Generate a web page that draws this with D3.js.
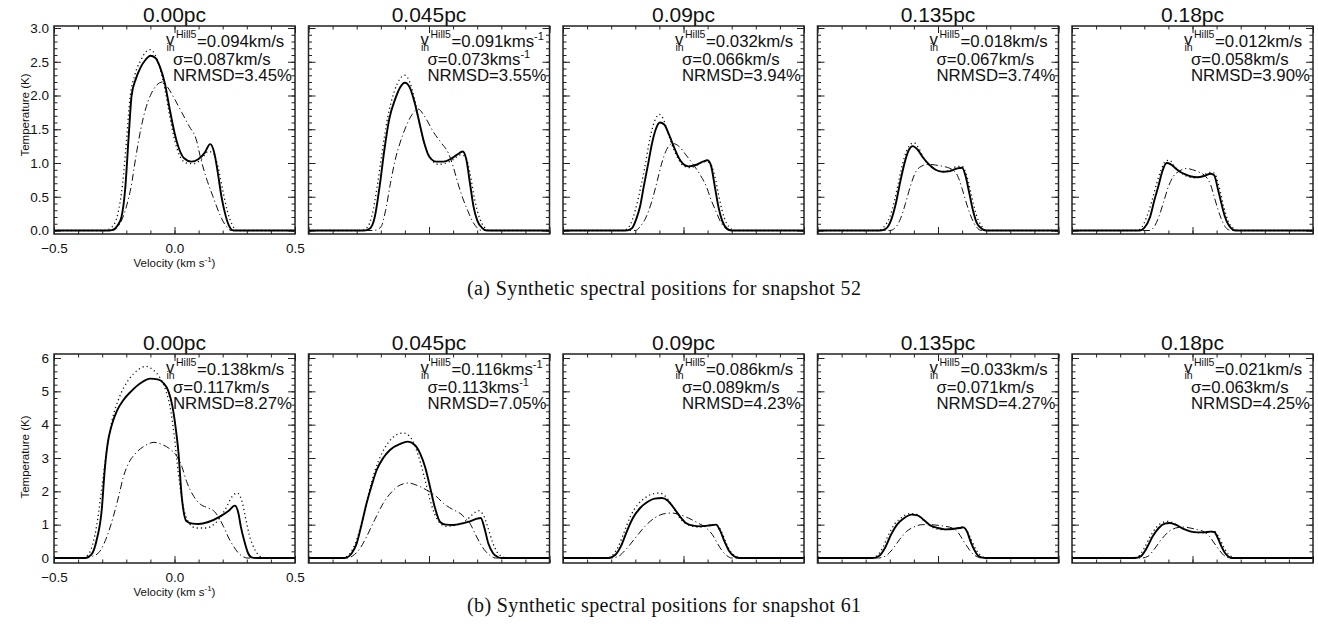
<!DOCTYPE html>
<html>
<head>
<meta charset="utf-8">
<script src="https://cdn.jsdelivr.net/npm/d3@7"></script>
<style>
body { margin: 0; background: #fff; }
svg text { font-family: "Liberation Sans", Arial, Helvetica, sans-serif; fill: #111; }
svg text.caption { font-family: "Liberation Serif", "DejaVu Serif", serif; }
</style>
</head>
<body>
<svg></svg>
<script>
// panel titles (distance from centre)
const distances = ['0.00pc', '0.045pc', '0.09pc', '0.135pc', '0.18pc'];

// annotation values, snapshot 52 (a) and 61 (b)
const vin52 = ['0.094', '0.091', '0.032', '0.018', '0.012'];
const sigma52 = ['0.087', '0.073', '0.066', '0.067', '0.058'];
const nrmsd52 = ['3.45', '3.55', '3.94', '3.74', '3.90'];
const vin61 = ['0.138', '0.116', '0.086', '0.033', '0.021'];
const sigma61 = ['0.117', '0.113', '0.089', '0.071', '0.063'];
const nrmsd61 = ['8.27', '7.05', '4.23', '4.27', '4.25'];
const unitStyle = ['km/s', 'kms-1', 'km/s', 'km/s', 'km/s'];

const captions = ['(a) Synthetic spectral positions for snapshot 52',
                  '(b) Synthetic spectral positions for snapshot 61'];

// spectra: [velocity km/s, temperature K]
const solid52 = [
  [[-0.5,0],[-0.27,0],[-0.25,0.02],[-0.235,0.08],[-0.22,0.2],[-0.205,0.6],[-0.19,1.4],[-0.178,2.0],[-0.16,2.25],[-0.14,2.42],[-0.12,2.53],[-0.1,2.59],[-0.08,2.56],[-0.06,2.42],[-0.04,2.18],[-0.02,1.8],[0.0,1.45],[0.02,1.2],[0.04,1.07],[0.07,1.02],[0.1,1.06],[0.125,1.15],[0.148,1.28],[0.165,1.15],[0.18,0.85],[0.195,0.5],[0.21,0.25],[0.225,0.08],[0.245,0],[0.5,0]],
  [[-0.5,0],[-0.27,0],[-0.245,0.03],[-0.225,0.2],[-0.205,0.65],[-0.185,1.2],[-0.165,1.65],[-0.14,1.95],[-0.12,2.12],[-0.1,2.19],[-0.08,2.12],[-0.06,1.9],[-0.04,1.6],[-0.02,1.3],[0.0,1.1],[0.03,1.02],[0.06,1.02],[0.09,1.06],[0.115,1.12],[0.14,1.17],[0.155,1.05],[0.17,0.7],[0.185,0.35],[0.2,0.15],[0.22,0.04],[0.24,0],[0.5,0]],
  [[-0.5,0],[-0.24,0],[-0.215,0.03],[-0.195,0.18],[-0.18,0.36],[-0.165,0.65],[-0.146,1.0],[-0.13,1.3],[-0.115,1.5],[-0.098,1.6],[-0.08,1.57],[-0.06,1.42],[-0.04,1.24],[-0.02,1.08],[0.0,0.98],[0.02,0.95],[0.05,0.97],[0.08,1.02],[0.1,1.04],[0.115,0.95],[0.13,0.65],[0.145,0.35],[0.16,0.15],[0.18,0.03],[0.2,0],[0.5,0]],
  [[-0.5,0],[-0.24,0],[-0.215,0.03],[-0.195,0.15],[-0.175,0.4],[-0.155,0.75],[-0.135,1.05],[-0.12,1.2],[-0.105,1.25],[-0.085,1.2],[-0.06,1.07],[-0.035,0.97],[-0.01,0.9],[0.02,0.87],[0.05,0.88],[0.08,0.92],[0.1,0.93],[0.115,0.8],[0.13,0.55],[0.145,0.3],[0.16,0.12],[0.18,0.03],[0.2,0],[0.5,0]],
  [[-0.5,0],[-0.22,0],[-0.2,0.04],[-0.176,0.2],[-0.158,0.45],[-0.142,0.65],[-0.125,0.88],[-0.107,1.0],[-0.09,0.98],[-0.07,0.92],[-0.052,0.87],[-0.03,0.83],[-0.005,0.8],[0.02,0.79],[0.05,0.81],[0.075,0.84],[0.09,0.82],[0.105,0.62],[0.12,0.4],[0.135,0.2],[0.15,0.08],[0.165,0.02],[0.18,0],[0.5,0]]
];
const dotted52 = [
  [[-0.5,0],[-0.29,0],[-0.26,0.05],[-0.235,0.25],[-0.215,0.7],[-0.2,1.3],[-0.185,1.95],[-0.165,2.3],[-0.14,2.52],[-0.115,2.66],[-0.1,2.68],[-0.08,2.6],[-0.06,2.4],[-0.04,2.1],[-0.02,1.7],[0.0,1.35],[0.02,1.12],[0.05,1.0],[0.08,0.99],[0.11,1.05],[0.14,1.17],[0.16,1.15],[0.18,0.95],[0.2,0.6],[0.22,0.28],[0.24,0.08],[0.26,0],[0.5,0]],
  [[-0.5,0],[-0.28,0],[-0.255,0.05],[-0.235,0.25],[-0.215,0.65],[-0.195,1.15],[-0.17,1.7],[-0.145,2.05],[-0.12,2.25],[-0.1,2.3],[-0.08,2.2],[-0.06,1.95],[-0.04,1.6],[-0.02,1.3],[0.01,1.05],[0.04,0.98],[0.07,1.0],[0.1,1.05],[0.13,1.12],[0.15,1.1],[0.17,0.85],[0.19,0.45],[0.21,0.18],[0.23,0.05],[0.25,0],[0.5,0]],
  [[-0.5,0],[-0.25,0],[-0.225,0.06],[-0.2,0.3],[-0.18,0.6],[-0.16,0.95],[-0.14,1.35],[-0.12,1.62],[-0.1,1.72],[-0.085,1.66],[-0.065,1.45],[-0.04,1.2],[-0.02,1.05],[0.0,0.96],[0.03,0.93],[0.06,0.98],[0.09,1.02],[0.11,1.0],[0.13,0.8],[0.15,0.45],[0.17,0.18],[0.19,0.05],[0.21,0],[0.5,0]],
  [[-0.5,0],[-0.25,0],[-0.225,0.05],[-0.2,0.2],[-0.18,0.45],[-0.16,0.78],[-0.14,1.08],[-0.12,1.25],[-0.1,1.3],[-0.08,1.22],[-0.06,1.08],[-0.035,0.96],[-0.01,0.9],[0.02,0.87],[0.05,0.9],[0.08,0.95],[0.1,0.95],[0.12,0.8],[0.14,0.5],[0.16,0.22],[0.18,0.07],[0.2,0],[0.5,0]],
  [[-0.5,0],[-0.23,0],[-0.21,0.05],[-0.19,0.2],[-0.17,0.42],[-0.15,0.68],[-0.13,0.9],[-0.11,1.03],[-0.095,1.04],[-0.075,0.95],[-0.05,0.86],[-0.02,0.8],[0.01,0.78],[0.04,0.8],[0.07,0.86],[0.09,0.85],[0.11,0.65],[0.13,0.35],[0.15,0.12],[0.17,0.03],[0.19,0],[0.5,0]]
];
const dashdot52 = [
  [[-0.5,0],[-0.26,0],[-0.23,0.08],[-0.2,0.35],[-0.18,0.65],[-0.16,1.1],[-0.14,1.5],[-0.12,1.8],[-0.1,2.0],[-0.075,2.15],[-0.05,2.2],[-0.03,2.13],[0.0,1.95],[0.03,1.75],[0.06,1.55],[0.09,1.35],[0.11,1.05],[0.13,0.8],[0.16,0.5],[0.19,0.22],[0.215,0.06],[0.235,0],[0.5,0]],
  [[-0.5,0],[-0.23,0],[-0.2,0.05],[-0.18,0.3],[-0.16,0.7],[-0.14,1.05],[-0.12,1.3],[-0.1,1.5],[-0.07,1.72],[-0.045,1.8],[-0.02,1.7],[0.02,1.45],[0.05,1.3],[0.08,1.15],[0.1,0.95],[0.12,0.7],[0.14,0.48],[0.16,0.3],[0.18,0.14],[0.2,0.04],[0.22,0],[0.5,0]],
  [[-0.5,0],[-0.2,0],[-0.175,0.08],[-0.155,0.2],[-0.13,0.45],[-0.11,0.72],[-0.09,1.0],[-0.07,1.2],[-0.045,1.29],[-0.02,1.25],[0.01,1.12],[0.04,0.98],[0.07,0.82],[0.095,0.65],[0.115,0.45],[0.135,0.28],[0.155,0.12],[0.175,0.03],[0.19,0],[0.5,0]],
  [[-0.5,0],[-0.2,0],[-0.175,0.05],[-0.155,0.18],[-0.135,0.4],[-0.115,0.65],[-0.095,0.85],[-0.07,0.95],[-0.04,0.98],[-0.01,0.97],[0.02,0.95],[0.05,0.92],[0.08,0.82],[0.1,0.62],[0.12,0.38],[0.14,0.18],[0.16,0.05],[0.18,0],[0.5,0]],
  [[-0.5,0],[-0.18,0],[-0.16,0.05],[-0.14,0.2],[-0.12,0.42],[-0.1,0.65],[-0.08,0.8],[-0.055,0.88],[-0.025,0.92],[0.0,0.9],[0.03,0.86],[0.055,0.8],[0.075,0.68],[0.09,0.5],[0.105,0.32],[0.12,0.17],[0.135,0.06],[0.15,0.01],[0.165,0],[0.5,0]]
];
const solid61 = [
  [[-0.5,0],[-0.37,0],[-0.345,0.1],[-0.323,0.54],[-0.302,1.44],[-0.29,2.6],[-0.278,3.4],[-0.26,4.0],[-0.24,4.4],[-0.212,4.74],[-0.18,5.0],[-0.14,5.25],[-0.1,5.38],[-0.07,5.36],[-0.046,5.25],[-0.025,5.0],[-0.01,4.6],[0.005,3.9],[0.016,3.2],[0.03,1.84],[0.05,1.1],[0.075,1.03],[0.1,1.02],[0.14,1.08],[0.19,1.25],[0.225,1.42],[0.25,1.57],[0.265,1.35],[0.275,0.95],[0.29,0.5],[0.305,0.15],[0.32,0.02],[0.34,0],[0.5,0]],
  [[-0.5,0],[-0.35,0],[-0.32,0.15],[-0.3,0.44],[-0.28,1.0],[-0.259,1.64],[-0.237,2.2],[-0.217,2.64],[-0.19,3.0],[-0.162,3.24],[-0.12,3.42],[-0.088,3.49],[-0.06,3.4],[-0.037,3.14],[-0.015,2.7],[0.004,2.14],[0.025,1.5],[0.046,1.08],[0.07,1.0],[0.1,0.99],[0.14,1.04],[0.17,1.1],[0.2,1.18],[0.215,1.2],[0.23,0.9],[0.246,0.44],[0.265,0.15],[0.285,0.03],[0.3,0],[0.5,0]],
  [[-0.5,0],[-0.31,0],[-0.285,0.08],[-0.26,0.35],[-0.235,0.8],[-0.21,1.2],[-0.18,1.5],[-0.15,1.68],[-0.12,1.78],[-0.09,1.8],[-0.065,1.72],[-0.04,1.5],[-0.015,1.25],[0.01,1.05],[0.04,0.97],[0.07,0.95],[0.1,0.97],[0.135,1.0],[0.15,0.85],[0.17,0.5],[0.19,0.2],[0.21,0.05],[0.23,0],[0.5,0]],
  [[-0.5,0],[-0.27,0],[-0.245,0.06],[-0.22,0.3],[-0.195,0.7],[-0.17,1.0],[-0.14,1.2],[-0.11,1.3],[-0.085,1.28],[-0.06,1.15],[-0.03,0.97],[0.0,0.9],[0.03,0.86],[0.06,0.87],[0.09,0.9],[0.105,0.92],[0.12,0.8],[0.135,0.5],[0.15,0.25],[0.165,0.08],[0.18,0.02],[0.2,0],[0.5,0]],
  [[-0.5,0],[-0.24,0],[-0.215,0.05],[-0.19,0.3],[-0.165,0.65],[-0.14,0.9],[-0.115,1.03],[-0.095,1.05],[-0.07,1.0],[-0.04,0.88],[-0.01,0.8],[0.02,0.77],[0.05,0.77],[0.075,0.79],[0.09,0.78],[0.105,0.6],[0.12,0.35],[0.135,0.15],[0.15,0.04],[0.165,0],[0.5,0]]
];
const dotted61 = [
  [[-0.5,0],[-0.385,0],[-0.36,0.08],[-0.34,0.4],[-0.32,1.1],[-0.3,2.2],[-0.28,3.3],[-0.26,4.1],[-0.23,4.8],[-0.19,5.35],[-0.15,5.65],[-0.12,5.75],[-0.09,5.65],[-0.06,5.4],[-0.035,5.0],[-0.015,4.4],[0.0,3.6],[0.015,2.6],[0.035,1.6],[0.06,1.05],[0.09,0.9],[0.13,0.9],[0.17,1.05],[0.21,1.45],[0.24,1.85],[0.26,1.95],[0.28,1.7],[0.295,1.2],[0.31,0.7],[0.33,0.3],[0.35,0.08],[0.37,0],[0.5,0]],
  [[-0.5,0],[-0.36,0],[-0.33,0.12],[-0.3,0.55],[-0.275,1.2],[-0.25,1.95],[-0.225,2.6],[-0.195,3.15],[-0.165,3.5],[-0.135,3.7],[-0.107,3.75],[-0.08,3.65],[-0.055,3.3],[-0.035,2.85],[-0.015,2.3],[0.01,1.6],[0.035,1.15],[0.07,0.95],[0.11,0.98],[0.15,1.1],[0.18,1.3],[0.205,1.42],[0.225,1.3],[0.245,0.9],[0.265,0.45],[0.285,0.15],[0.305,0.04],[0.325,0],[0.5,0]],
  [[-0.5,0],[-0.32,0],[-0.295,0.08],[-0.27,0.35],[-0.245,0.8],[-0.22,1.25],[-0.19,1.6],[-0.16,1.8],[-0.13,1.92],[-0.1,1.95],[-0.075,1.85],[-0.05,1.6],[-0.025,1.3],[0.0,1.08],[0.03,0.97],[0.06,0.93],[0.09,0.95],[0.12,1.0],[0.14,0.98],[0.16,0.75],[0.18,0.4],[0.2,0.15],[0.22,0.04],[0.24,0],[0.5,0]],
  [[-0.5,0],[-0.28,0],[-0.255,0.06],[-0.23,0.3],[-0.205,0.7],[-0.18,1.02],[-0.15,1.22],[-0.12,1.33],[-0.095,1.33],[-0.07,1.2],[-0.04,1.0],[-0.01,0.88],[0.02,0.85],[0.05,0.86],[0.08,0.9],[0.1,0.93],[0.12,0.82],[0.14,0.52],[0.16,0.22],[0.18,0.06],[0.2,0],[0.5,0]],
  [[-0.5,0],[-0.25,0],[-0.225,0.05],[-0.2,0.3],[-0.175,0.65],[-0.15,0.92],[-0.125,1.06],[-0.1,1.1],[-0.08,1.05],[-0.05,0.92],[-0.02,0.82],[0.01,0.77],[0.04,0.76],[0.07,0.8],[0.09,0.8],[0.11,0.62],[0.13,0.32],[0.15,0.1],[0.17,0.02],[0.185,0],[0.5,0]]
];
const dashdot61 = [
  [[-0.5,0],[-0.37,0],[-0.34,0.05],[-0.31,0.2],[-0.28,0.65],[-0.254,1.24],[-0.23,1.9],[-0.212,2.44],[-0.19,2.85],[-0.16,3.15],[-0.12,3.38],[-0.085,3.47],[-0.05,3.4],[-0.019,3.27],[0.01,3.05],[0.03,2.75],[0.05,2.3],[0.08,1.85],[0.106,1.62],[0.14,1.5],[0.165,1.4],[0.185,1.2],[0.203,0.95],[0.225,0.6],[0.245,0.35],[0.265,0.15],[0.285,0.04],[0.3,0],[0.5,0]],
  [[-0.5,0],[-0.34,0],[-0.31,0.1],[-0.285,0.3],[-0.259,0.64],[-0.225,1.15],[-0.19,1.64],[-0.155,1.98],[-0.12,2.19],[-0.085,2.25],[-0.05,2.18],[-0.01,2.04],[0.03,1.85],[0.06,1.64],[0.1,1.45],[0.129,1.34],[0.15,1.2],[0.17,1.04],[0.19,0.75],[0.212,0.44],[0.235,0.2],[0.255,0.07],[0.275,0],[0.5,0]],
  [[-0.5,0],[-0.3,0],[-0.27,0.05],[-0.24,0.25],[-0.2,0.6],[-0.16,0.95],[-0.12,1.2],[-0.085,1.32],[-0.05,1.35],[-0.015,1.3],[0.02,1.2],[0.06,1.05],[0.095,0.9],[0.12,0.7],[0.14,0.45],[0.16,0.22],[0.18,0.07],[0.2,0],[0.5,0]],
  [[-0.5,0],[-0.25,0],[-0.22,0.05],[-0.19,0.25],[-0.16,0.55],[-0.13,0.8],[-0.1,0.93],[-0.065,1.0],[-0.03,1.0],[0.0,0.98],[0.03,0.95],[0.06,0.9],[0.085,0.75],[0.105,0.52],[0.125,0.3],[0.145,0.12],[0.165,0.03],[0.18,0],[0.5,0]],
  [[-0.5,0],[-0.21,0],[-0.185,0.05],[-0.16,0.25],[-0.13,0.55],[-0.1,0.78],[-0.07,0.9],[-0.04,0.93],[-0.01,0.9],[0.02,0.85],[0.05,0.78],[0.07,0.65],[0.09,0.45],[0.11,0.25],[0.13,0.08],[0.15,0.01],[0.165,0],[0.5,0]]
];

const rows = [
  {top: 26, height: 208, domain: [-0.052, 3.03], major: d3.range(0, 3.01, 0.5), minor: d3.range(0, 3.01, 0.1),
   fmt: d3.format('.1f'), vin: vin52, sigma: sigma52, nrmsd: nrmsd52, ylabY: 89,
   solid: solid52, dotted: dotted52, dashdot: dashdot52, caption: captions[0], capY: 295},
  {top: 354, height: 209, domain: [-0.15, 6.12], major: d3.range(0, 6.01, 1), minor: d3.range(0, 6.01, 0.2),
   fmt: d3.format('d'), vin: vin61, sigma: sigma61, nrmsd: nrmsd61, ylabY: 103,
   solid: solid61, dotted: dotted61, dashdot: dashdot61, caption: captions[1], capY: 612}
];

const W = 1318, H = 633;
const panelW = 241, panelStep = 254.5, left0 = 54;

const svg = d3.select('svg').attr('width', W).attr('height', H);

const x = d3.scaleLinear().domain([-0.5, 0.5]).range([0, panelW]);
const xMajor = [-0.5, 0, 0.5];
const xMinor = d3.range(-0.5, 0.501, 0.1);

// "=0.087km/s" or "=0.073kms^-1"
function unitText(sel, value, style) {
  sel.append('tspan').text('=' + value + (style === 'km/s' ? 'km/s' : 'kms'));
  if (style !== 'km/s') {
    sel.append('tspan').attr('font-size', 11).attr('dy', -7).text('-1');
  }
}

rows.forEach((row, r) => {
  const y = d3.scaleLinear().domain(row.domain).range([row.height, 0]);
  const line = d3.line().x(d => x(d[0])).y(d => y(d[1])).curve(d3.curveMonotoneX);

  for (let i = 0; i < 5; i++) {
    const g = svg.append('g').attr('transform', `translate(${left0 + i * panelStep},${row.top})`);
    const first = i === 0;

    // ticks on all four sides, minor then major
    const addAxes = (vals, len, labels) => {
      const fmtX = labels ? d3.format('.1f') : () => '';
      const fmtY = labels ? row.fmt : () => '';
      g.append('g').attr('transform', `translate(0,${row.height})`)
        .call(d3.axisBottom(x).tickValues(vals.x).tickSizeInner(-len).tickSizeOuter(0).tickPadding(9).tickFormat(fmtX));
      g.append('g')
        .call(d3.axisTop(x).tickValues(vals.x).tickSizeInner(-len).tickSizeOuter(0).tickFormat(''));
      g.append('g')
        .call(d3.axisLeft(y).tickValues(vals.y).tickSizeInner(-len).tickSizeOuter(0).tickPadding(5).tickFormat(fmtY));
      g.append('g').attr('transform', `translate(${panelW},0)`)
        .call(d3.axisRight(y).tickValues(vals.y).tickSizeInner(-len).tickSizeOuter(0).tickFormat(''));
    };
    addAxes({x: xMinor, y: row.minor}, 3.5, false);
    addAxes({x: xMajor, y: row.major}, 7, first);
    g.selectAll('.domain').remove();
    g.selectAll('.tick line').attr('stroke', '#222').attr('stroke-width', 1);
    g.selectAll('.tick text').attr('font-size', 13.5).attr('fill', '#111')
      .style('font-family', '"Liberation Sans", Arial, sans-serif');

    // spectra
    g.append('path').attr('d', line(row.dashdot[i]))
      .attr('fill', 'none').attr('stroke', '#111').attr('stroke-width', 1)
      .attr('stroke-dasharray', '7,3,1.2,3');
    g.append('path').attr('d', line(row.dotted[i]))
      .attr('fill', 'none').attr('stroke', '#111').attr('stroke-width', 1.3)
      .attr('stroke-dasharray', '1.2,3');
    g.append('path').attr('d', line(row.solid[i]))
      .attr('fill', 'none').attr('stroke', '#000').attr('stroke-width', 1.9);

    // frame
    g.append('rect').attr('width', panelW).attr('height', row.height)
      .attr('fill', 'none').attr('stroke', '#222').attr('stroke-width', 1.5);

    // title
    g.append('text').attr('x', panelW / 2).attr('y', -4.5)
      .attr('text-anchor', 'middle').attr('font-size', 21).text(distances[i]);

    // annotation
    const ann = g.append('g').attr('font-size', 16.8);
    const x0 = 112;
    const l1 = ann.append('text').attr('x', x0).attr('y', 19);
    l1.append('tspan').text('v');
    l1.append('tspan').attr('x', x0 + 0.5).attr('dy', 5.5).attr('font-size', 10.5).text('in');
    l1.append('tspan').attr('x', x0 + 10).attr('dy', -13).attr('font-size', 10.5).text('Hill5');
    l1.append('tspan').attr('x', x0 + 31).attr('dy', 9.5)
      .text('=' + row.vin[i] + (unitStyle[i] === 'km/s' ? 'km/s' : 'kms'));
    if (unitStyle[i] !== 'km/s') {
      l1.append('tspan').attr('font-size', 11).attr('dy', -7).text('-1');
    }
    unitText(ann.append('text').attr('x', 119).attr('y', 38.5).text('\u03c3'), row.sigma[i], unitStyle[i]);
    ann.append('text').attr('x', 119).attr('y', 55).text('NRMSD=' + row.nrmsd[i] + '%');

    if (first) {
      g.append('text')
        .attr('transform', `translate(-25,${row.ylabY}) rotate(-90)`)
        .attr('text-anchor', 'middle').attr('font-size', 11.5).text('Temperature (K)');
      const xl = g.append('text').attr('x', panelW / 2).attr('y', row.height + 33)
        .attr('text-anchor', 'middle').attr('font-size', 11.5);
      xl.append('tspan').text('Velocity (km s');
      xl.append('tspan').attr('font-size', 8).attr('dy', -5).text('-1');
      xl.append('tspan').attr('dy', 5).text(')');
    }
  }

  svg.append('text').attr('class', 'caption')
    .attr('x', 664).attr('y', row.capY).attr('text-anchor', 'middle')
    .attr('font-size', 20).attr('textLength', 394).attr('lengthAdjust', 'spacing')
    .text(row.caption);
});
</script>
</body>
</html>
